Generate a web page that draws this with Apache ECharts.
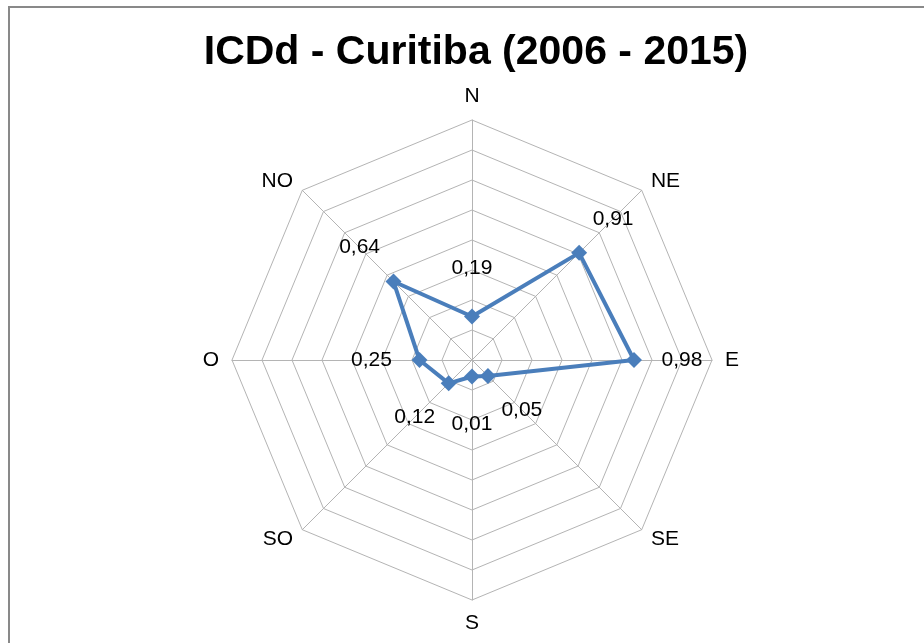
<!DOCTYPE html>
<html>
<head>
<meta charset="utf-8">
<script src="https://cdn.jsdelivr.net/npm/echarts@6/dist/echarts.min.js"></script>
<style>
  html, body { margin: 0; padding: 0; background: #fff; }
  #chart { width: 924px; height: 643px; }
</style>
</head>
<body>
<div id="chart"></div>
<script>
// directions listed in the order ECharts walks them (counterclockwise from the top)
const directions = ["N", "NO", "O", "SO", "S", "SE", "E", "NE"];
const icdValues = [0.19, 0.64, 0.25, 0.12, 0.01, 0.05, 0.98, 0.91];
const axisMin = -0.1;
const axisMax = 1.5;

const CX = 472;
const CY = 360;
const LABEL_DIST = 48;
const FONT = "Liberation Sans, Arial, sans-serif";

const chart = echarts.init(document.getElementById("chart"), null, { renderer: "canvas" });

const fmt = (v) => v.toFixed(2).replace(".", ",");

chart.setOption({
  backgroundColor: "#fff",
  animation: false,
  title: {
    text: "ICDd - Curitiba (2006 - 2015)",
    left: 476,
    top: 32,
    padding: 0,
    textAlign: "center",
    textStyle: {
      fontFamily: FONT,
      fontSize: 41,
      fontWeight: "bold",
      color: "#000",
    },
  },
  graphic: [
    {
      type: "rect",
      shape: { x: 9, y: 7, width: 1000, height: 1000 },
      style: { fill: "none", stroke: "#898989", lineWidth: 2 },
      silent: true,
      z: -1,
    },
  ],
  radar: {
    center: [CX, CY],
    radius: 240,
    startAngle: 90,
    splitNumber: 8,
    shape: "polygon",
    nameGap: 13,
    indicator: directions.map((name) => ({ name, min: axisMin, max: axisMax })),
    axisName: {
      color: "#000",
      fontFamily: FONT,
      fontSize: 21,
    },
    splitLine: { lineStyle: { color: "#b4b4b4", width: 1 } },
    splitArea: { show: false },
    axisLine: { lineStyle: { color: "#b4b4b4", width: 1 } },
    axisTick: { show: false },
    axisLabel: { show: false },
  },
  series: [
    {
      type: "radar",
      symbol: "diamond",
      symbolSize: 16,
      lineStyle: { color: "#4a7ebb", width: 4 },
      itemStyle: { color: "#4a7ebb" },
      label: {
        show: true,
        position: "inside",
        color: "#000",
        fontFamily: FONT,
        fontSize: 21,
        formatter: (p) => {
          const v = Array.isArray(p.value) ? p.value[p.dimensionIndex] : p.value;
          return fmt(v);
        },
      },
      // push each value label outward from the centre, like the spreadsheet does
      labelLayout: (p) => {
        const r = p.rect;
        const x = r.x + r.width / 2;
        const y = r.y + r.height / 2;
        const dx = x - CX;
        const dy = y - CY;
        const len = Math.hypot(dx, dy) || 1;
        return {
          x: x + (dx / len) * LABEL_DIST,
          y: y + (dy / len) * LABEL_DIST,
          align: "center",
          verticalAlign: "middle",
        };
      },
      data: [{ value: icdValues, name: "ICDd" }],
    },
  ],
});
</script>
</body>
</html>
